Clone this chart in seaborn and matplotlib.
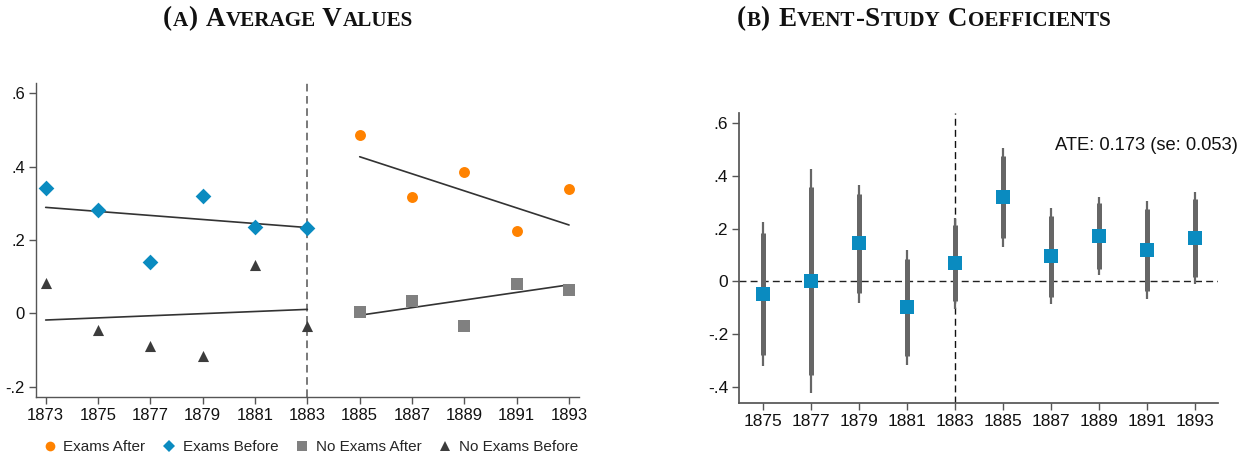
import matplotlib
matplotlib.use("Agg")
import matplotlib.pyplot as plt
from matplotlib.lines import Line2D
from matplotlib.offsetbox import TextArea, HPacker, AnnotationBbox
import seaborn as sns
import pandas as pd
import numpy as np

# ---------------- data ----------------
years_before = [1873, 1875, 1877, 1879, 1881, 1883]
years_after = [1885, 1887, 1889, 1891, 1893]
exams_before = [0.343, 0.281, 0.141, 0.320, 0.236, 0.232]
no_exams_before = [0.082, -0.045, -0.090, -0.115, 0.132, -0.034]
exams_after = [0.485, 0.317, 0.386, 0.224, 0.338]
no_exams_after = [0.003, 0.035, -0.033, 0.079, 0.065]

fit_years_before = [1873, 1883]
fit_exams_before = [0.289, 0.234]
fit_no_exams_before = [-0.018, 0.011]
fit_years_after = [1885, 1893]
fit_exams_after = [0.427, 0.241]
fit_no_exams_after = [-0.005, 0.078]

left_xticks = [1873, 1875, 1877, 1879, 1881, 1883, 1885, 1887, 1889, 1891, 1893]
left_yticks = [-0.2, 0, 0.2, 0.4, 0.6]
left_ylabels = ["-.2", "0", ".2", ".4", ".6"]

es_years = [1875, 1877, 1879, 1881, 1883, 1885, 1887, 1889, 1891, 1893]
coef = [-0.048, 0.000, 0.144, -0.099, 0.068, 0.319, 0.096, 0.171, 0.118, 0.164]
ci90_lo = [-0.280, -0.357, -0.043, -0.284, -0.075, 0.163, -0.058, 0.047, -0.038, 0.017]
ci90_hi = [0.182, 0.357, 0.330, 0.085, 0.214, 0.477, 0.249, 0.296, 0.276, 0.311]
ci95_lo = [-0.322, -0.425, -0.081, -0.318, -0.106, 0.131, -0.087, 0.023, -0.068, -0.011]
ci95_hi = [0.226, 0.427, 0.366, 0.119, 0.239, 0.507, 0.280, 0.320, 0.305, 0.339]
right_yticks = [-0.4, -0.2, 0, 0.2, 0.4, 0.6]
right_ylabels = ["-.4", "-.2", "0", ".2", ".4", ".6"]
ate_text = "ATE: 0.173 (se: 0.053)"

series_names = ["Exams After", "Exams Before", "No Exams After", "No Exams Before"]
colors = {"Exams After": "#FF8200", "Exams Before": "#0A8BC0",
          "No Exams After": "#808080", "No Exams Before": "#3C3C3C"}
markers = {"Exams After": "o", "Exams Before": "D",
           "No Exams After": "s", "No Exams Before": "^"}
sizes = {"Exams After": 62, "Exams Before": 64, "No Exams After": 64, "No Exams Before": 64}

# ---------------- style ----------------
sns.set_theme(style="ticks")
plt.rcParams["font.family"] = ["Liberation Sans", "DejaVu Sans"]
plt.rcParams["axes.edgecolor"] = "#555555"
plt.rcParams["xtick.color"] = "#555555"
plt.rcParams["ytick.color"] = "#555555"
plt.rcParams["xtick.labelcolor"] = "#111111"
plt.rcParams["ytick.labelcolor"] = "#111111"

fig = plt.figure(figsize=(12.5, 4.58), dpi=100)
W, H = 1250, 458

def px_axes(x0, y0, x1, y1):
    return fig.add_axes([x0 / W, 1 - y1 / H, (x1 - x0) / W, (y1 - y0) / H])

# ---------------- panel A ----------------
axA = px_axes(36, 83, 579, 396.7)
df_pts = pd.concat([
    pd.DataFrame({"year": years_after, "value": exams_after, "group": "Exams After"}),
    pd.DataFrame({"year": years_before, "value": exams_before, "group": "Exams Before"}),
    pd.DataFrame({"year": years_after, "value": no_exams_after, "group": "No Exams After"}),
    pd.DataFrame({"year": years_before, "value": no_exams_before, "group": "No Exams Before"}),
], ignore_index=True)

axA.axvline(1883, color="#555555", linestyle=(0, (5, 3)), linewidth=1.1, zorder=1)

fits = [(fit_years_before, fit_exams_before), (fit_years_before, fit_no_exams_before),
        (fit_years_after, fit_exams_after), (fit_years_after, fit_no_exams_after)]
for fx, fy in fits:
    sns.lineplot(x=fx, y=fy, ax=axA, color="#333333", linewidth=1.2, zorder=2)

for name in series_names:
    sub = df_pts[df_pts["group"] == name]
    sns.scatterplot(data=sub, x="year", y="value", ax=axA, color=colors[name],
                    marker=markers[name], s=sizes[name], linewidth=0, zorder=3)

axA.set_xlim(1872.63, 1893.38)
axA.set_ylim(-0.227, 0.628)
axA.set_xticks(left_xticks)
axA.set_xticklabels([str(v) for v in left_xticks], fontsize=12)
axA.set_yticks(left_yticks)
axA.set_yticklabels(left_ylabels, fontsize=12)
axA.tick_params(length=5, width=1, pad=3)
axA.set_xlabel("")
axA.set_ylabel("")
for s in ["top", "right"]:
    axA.spines[s].set_visible(False)
for s in ["left", "bottom"]:
    axA.spines[s].set_linewidth(1.0)

handles = [Line2D([], [], linestyle="none", marker=markers[n], color=colors[n],
                  markersize=7 if n != "Exams Before" else 6.5, markeredgewidth=0)
           for n in series_names]
fig.legend(handles, series_names, loc="center", bbox_to_anchor=(311 / W, 1 - 447 / H),
           ncol=4, frameon=False, fontsize=11, handlelength=0.8, handletextpad=0.5,
           columnspacing=1.15, borderaxespad=0)

# ---------------- panel B ----------------
axB = px_axes(739.3, 113.3, 1218.3, 402.7)
axB.axhline(0, color="#222222", linestyle=(0, (5, 3)), linewidth=1.0, zorder=1)
axB.axvline(1883, color="#111111", linestyle=(0, (5, 3)), linewidth=1.0, zorder=1)
axB.vlines(es_years, ci95_lo, ci95_hi, color="#666666", linewidth=1.6, zorder=2)
axB.vlines(es_years, ci90_lo, ci90_hi, color="#666666", linewidth=3.6, zorder=2)
sns.scatterplot(x=es_years, y=coef, ax=axB, color="#0A8BC0", marker="s", s=95,
                linewidth=0, zorder=3)
axB.set_xlim(1874.0, 1893.96)
axB.set_ylim(-0.461, 0.638)
axB.set_xticks(es_years)
axB.set_xticklabels([str(v) for v in es_years], fontsize=12.5)
axB.set_yticks(right_yticks)
axB.set_yticklabels(right_ylabels, fontsize=12.5)
axB.tick_params(length=5, width=1, pad=3)
for s in ["top", "right"]:
    axB.spines[s].set_visible(False)
axB.text(1887.17, 0.515, ate_text, fontsize=13.2, ha="left", va="center",
         color="#111111", clip_on=False)

# ---------------- small-caps titles ----------------
def smallcaps(parts, x, y, size):
    kids = []
    for txt, small in parts:
        kids.append(TextArea(txt, textprops=dict(
            fontsize=size * (0.78 if small else 1.0), fontweight="bold",
            family=["Liberation Serif", "DejaVu Serif"], color="#111111")))
    pack = HPacker(children=kids, align="baseline", pad=0, sep=0.5)
    ab = AnnotationBbox(pack, (x / W, 1 - y / H), xycoords="figure fraction",
                        frameon=False, box_alignment=(0.5, 0.5), pad=0)
    fig.add_artist(ab)

smallcaps([("(", False), ("A", True), (") ", False), ("A", False), ("VERAGE", True),
           (" V", False), ("ALUES", True)], 288, 19, 19.5)
smallcaps([("(", False), ("B", True), (") ", False), ("E", False), ("VENT", True),
           ("-S", False), ("TUDY", True), (" C", False), ("OEFFICIENTS", True)], 924, 19, 19.5)

fig.savefig("out.png", dpi=100)
